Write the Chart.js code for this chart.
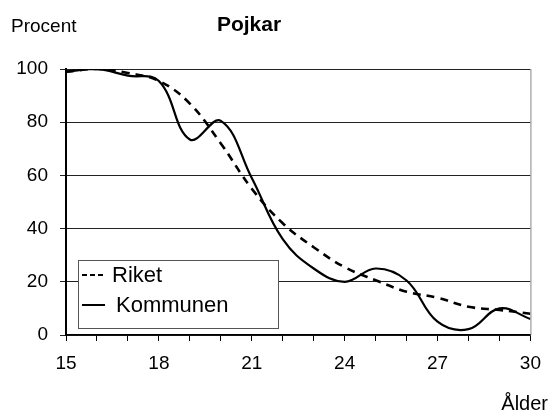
<!DOCTYPE html>
<html>
<head>
<meta charset="utf-8">
<script src="https://cdn.jsdelivr.net/npm/chart.js@4"></script>
<style>
  body { margin: 0; background: #fff; }
  canvas { display: block; }
</style>
</head>
<body>
<canvas id="pojkarChart" width="552" height="414"></canvas>
<script>
// Ålder 15-30
const ages = [15, 16, 17, 18, 19, 20, 21, 22, 23, 24, 25, 26, 27, 28, 29, 30];
const riket = [99, 100, 98.5, 95.5, 87, 72, 55, 42, 33, 25.5, 20.6, 16.3, 14, 10.6, 9.4, 8];
const kommunen = [99, 100, 97.5, 95.5, 73.5, 80.5, 59, 36, 25, 20, 25, 20.5, 5, 2.2, 10, 6];
const yTicks = [0, 20, 40, 60, 80, 100];
const xLabels = [15, 18, 21, 24, 27, 30];

const FONT = "'Liberation Sans', Arial, sans-serif";

// titel, axeltexter, ram och legend ritas här
const extras = {
    id: "extras",
    afterDraw(chart) {
        const { ctx, chartArea } = chart;
        ctx.save();
        // grå högerkant
        ctx.strokeStyle = "#888";
        ctx.lineWidth = 1;
        ctx.beginPath();
        ctx.moveTo(chartArea.right + 0.5, chartArea.top);
        ctx.lineTo(chartArea.right + 0.5, chartArea.bottom);
        ctx.stroke();

        ctx.fillStyle = "#000";
        ctx.textBaseline = "alphabetic";
        ctx.font = "19px " + FONT;
        ctx.textAlign = "left";
        ctx.fillText("Procent", 11, 32);
        ctx.font = "bold 21px " + FONT;
        ctx.textAlign = "center";
        ctx.fillText("Pojkar", 249, 31);
        ctx.font = "20px " + FONT;
        ctx.textAlign = "right";
        ctx.fillText("Ålder", 548, 410);

        // legend
        const box = { x: 78.5, y: 260.5, w: 200, h: 68 };
        ctx.fillStyle = "#fff";
        ctx.fillRect(box.x, box.y, box.w, box.h);
        ctx.strokeStyle = "#555";
        ctx.lineWidth = 1;
        ctx.strokeRect(box.x, box.y, box.w, box.h);
        const rows = [
            { ds: chart.data.datasets[0], y: 275, tx: 112, dash: [5, 3] },
            { ds: chart.data.datasets[1], y: 305, tx: 116, dash: [] },
        ];
        rows.forEach((r) => {
            ctx.strokeStyle = "#000";
            ctx.lineWidth = 2;
            ctx.setLineDash(r.dash);
            ctx.beginPath();
            ctx.moveTo(82, r.y);
            ctx.lineTo(105, r.y);
            ctx.stroke();
            ctx.setLineDash([]);
            ctx.fillStyle = "#000";
            ctx.font = "22px " + FONT;
            ctx.textAlign = "left";
            ctx.textBaseline = "middle";
            ctx.fillText(r.ds.label, r.tx, r.y + 1);
        });
        ctx.restore();
    },
};

const ctx = document.getElementById("pojkarChart").getContext("2d");

const pojkarChart = new Chart(ctx, {
    type: "line",
    data: {
        datasets: [
            {
                label: "Riket",
                data: ages.map((a, i) => ({ x: a, y: riket[i] })),
                borderColor: "#000",
                borderWidth: 2.6,
                borderDash: [8, 6],
                tension: 0.4,
                pointRadius: 0,
                fill: false,
            },
            {
                label: "Kommunen",
                data: ages.map((a, i) => ({ x: a, y: kommunen[i] })),
                borderColor: "#000",
                borderWidth: 2.2,
                tension: 0.4,
                pointRadius: 0,
                fill: false,
            },
        ],
    },
    options: {
        responsive: false,
        animation: false,
        layout: {
            padding: { left: 0, top: 69, right: 15, bottom: 0 },
        },
        plugins: {
            legend: { display: false },
            title: { display: false },
            tooltip: { enabled: false },
        },
        scales: {
            x: {
                type: "linear",
                min: 15,
                max: 30,
                afterFit: (scale) => { scale.height = 79; },
                afterBuildTicks: (scale) => {
                    scale.ticks = ages.map((a) => ({ value: a }));
                },
                grid: {
                    drawOnChartArea: false,
                    drawTicks: true,
                    tickLength: 6,
                    color: "#000",
                },
                border: { color: "#000", width: 1.5 },
                ticks: {
                    autoSkip: false,
                    maxRotation: 0,
                    padding: 11,
                    color: "#000",
                    font: { family: FONT, size: 19 },
                    callback: (v) => (xLabels.includes(v) ? v : ""),
                },
            },
            y: {
                min: 0,
                max: 100,
                afterFit: (scale) => { scale.width = 66; },
                afterBuildTicks: (scale) => {
                    scale.ticks = yTicks.map((v) => ({ value: v }));
                },
                grid: {
                    color: "#222",
                    lineWidth: 1,
                    drawTicks: true,
                    tickLength: 6,
                },
                border: { color: "#000", width: 2 },
                ticks: {
                    padding: 12,
                    color: "#000",
                    font: { family: FONT, size: 19 },
                },
            },
        },
    },
    plugins: [extras],
});
</script>
</body>
</html>
